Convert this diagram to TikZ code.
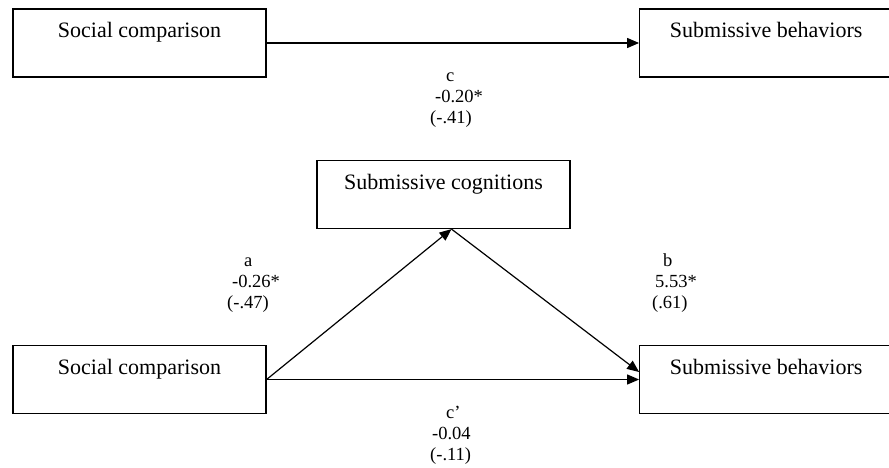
\documentclass[tikz,border=0pt]{standalone}
\usepackage{fontspec}
\setmainfont{Liberation Serif}
\usepackage{tikz}
\usetikzlibrary{arrows.meta, positioning}
\tikzstyle{var} = [rectangle, draw=black, line width=1.2pt, inner sep=0pt, minimum width=253pt, text height=29pt, text depth=39pt, text centered, font=\fontsize{22}{26}\selectfont]
\tikzstyle{coef} = [align=left, inner sep=0pt, anchor=west, font=\fontsize{18.5}{21}\selectfont]
\tikzstyle{arrow} = [line width=1.2pt, -{Triangle[length=12pt, width=10pt]}]

\begin{document}
\begin{tikzpicture}[x=1pt, y=-1pt, node distance=372.5pt]
	\useasboundingbox (0,0) rectangle (889,468);
	% total effect
	\node (SocTop) [var] at (139.5,43) {Social comparison};
	\node (BehTop) [var, right=of SocTop] {Submissive behaviors};
	\draw [arrow] (SocTop) -- (BehTop);
	\node (LabC) [coef] at (430,100) {\hspace*{16pt}c\\\hspace*{5pt}-0.20*\\(-.41)};
	% mediation
	\node (Cog) [var] at (443.5,194.5) {Submissive cognitions};
	\node (SocBot) [var] at (139.5,379.5) {Social comparison};
	\node (BehBot) [var, right=of SocBot] {Submissive behaviors};
	\draw [arrow] (SocBot.east) -- ([xshift=8pt]Cog.south);
	\draw [arrow] ([xshift=8pt]Cog.south) -- ([yshift=7.5pt]BehBot.west);
	\draw [arrow] (SocBot) -- (BehBot);
	\node (LabA) [coef] at (227,285) {\hspace*{17pt}a\\\hspace*{5pt}-0.26*\\(-.47)};
	\node (LabB) [coef] at (652,283) {\hspace*{11pt}b\\\hspace*{3pt}5.53*\\(.61)};
	\node (LabCp) [coef] at (430,435) {\hspace*{16pt}c’\\\hspace*{2pt}-0.04\\(-.11)};
\end{tikzpicture}
\end{document}
